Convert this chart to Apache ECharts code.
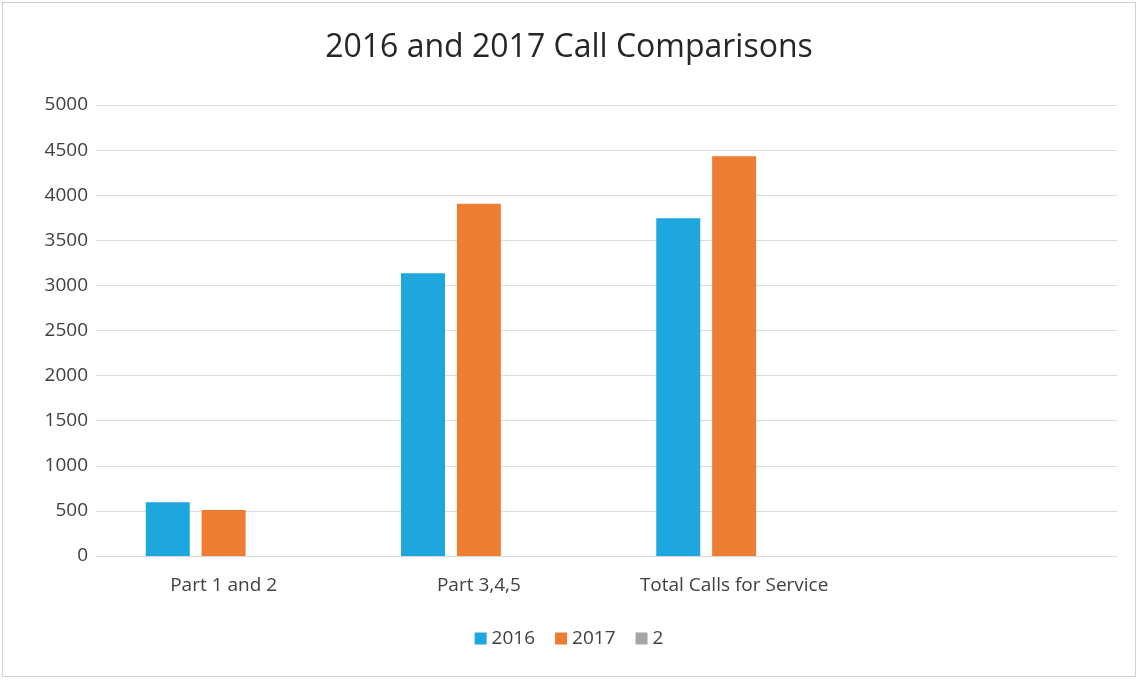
<!DOCTYPE html>
<html><head><meta charset="utf-8">
<script src="https://cdn.jsdelivr.net/npm/echarts@6/dist/echarts.min.js"></script>
<style>
html,body{margin:0;padding:0;background:#fff;}
#c{position:absolute;left:2px;top:2px;width:1134px;height:675px;border:1px solid #d0d0d0;box-sizing:border-box;}
</style></head>
<body><div id="c"></div>
<script>
const categories = ['Part 1 and 2', 'Part 3,4,5', 'Total Calls for Service', ''];
const seriesNames = ['2016', '2017', '2'];
const values2016 = [595, 3135, 3745, null];
const values2017 = [510, 3905, 4432, null];
const values2 = [null, null, null, null];
const yTicks = [0, 500, 1000, 1500, 2000, 2500, 3000, 3500, 4000, 4500, 5000];

const font = '"Open Sans", sans-serif';
const chart = echarts.init(document.getElementById('c'));
chart.setOption({
  animation: false,
  backgroundColor: '#fff',
  title: {
    text: '2016 and 2017 Call Comparisons',
    left: 'center', top: 24,
    textStyle: {fontFamily: font, fontSize: 32, fontWeight: 'normal', color: '#262626'}
  },
  legend: {
    data: seriesNames,
    bottom: 23, left: 'center',
    itemWidth: 12, itemHeight: 12, itemGap: 20,
    icon: 'rect',
    textStyle: {fontFamily: font, fontSize: 19, color: '#404040'}
  },
  grid: {left: 93, right: 18, top: 102, bottom: 120, containLabel: false},
  xAxis: {
    type: 'category', data: categories,
    axisLine: {lineStyle: {color: '#d9d9d9'}},
    axisTick: {show: false},
    axisLabel: {fontFamily: font, fontSize: 19, color: '#404040', margin: 20}
  },
  yAxis: {
    type: 'value', min: yTicks[0], max: yTicks[yTicks.length - 1], interval: 500,
    axisLine: {show: false}, axisTick: {show: false},
    splitLine: {lineStyle: {color: '#dcdcdc'}},
    axisLabel: {fontFamily: font, fontSize: 19, color: '#404040', margin: 8,
      formatter: function (v) { return String(v); }}
  },
  series: [
    {name: seriesNames[0], type: 'bar', data: values2016, itemStyle: {color: '#1ea6de'}, barGap: '27%', barCategoryGap: '39%'},
    {name: seriesNames[1], type: 'bar', data: values2017, itemStyle: {color: '#ed7d31'}},
    {name: seriesNames[2], type: 'bar', data: values2, itemStyle: {color: '#a5a5a5'}}
  ]
});
</script></body></html>
